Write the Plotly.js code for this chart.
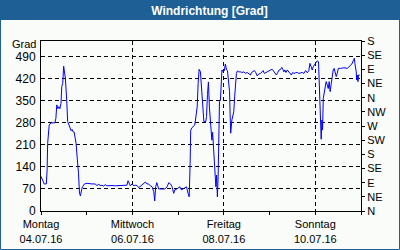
<!DOCTYPE html>
<html>
<head>
<meta charset="utf-8">
<script src="https://cdn.plot.ly/plotly-3.0.1.min.js"></script>
<style>
  html, body { margin: 0; padding: 0; background: #FAFCFA; }
  #chart { width: 400px; height: 250px; }
</style>
</head>
<body>
<div id="chart"></div>
<script>
// Hours since Montag 04.07.16 00:00
const hours = [
  0, 0.8, 1.7, 2.8, 3.2, 3.5, 3.8, 4.3, 5.2, 7.3,
  7.8, 8.3, 8.9, 9.4, 9.9, 10.5, 10.9, 11.4, 11.9, 12.2,
  12.4, 12.8, 13.5, 14, 14.7, 15.3, 15.8, 16.3, 16.9, 17.4,
  17.9, 18.4, 19.1, 19.7, 20.2, 20.7, 21.3, 21.8, 22.8, 24.1,
  26.7, 28.5, 29.4, 30.3, 31.1, 32, 32.9, 33.8, 34.6, 35.5,
  37.3, 39, 40.8, 42.5, 44.3, 45.1, 45.7, 46.4, 46.9, 47.8,
  48.7, 49.6, 50.4, 51.3, 52.2, 53, 53.9, 54.8, 55.6, 56.5,
  57.4, 58.3, 59.2, 59.7, 60.2, 60.8, 61.8, 63, 65, 66.2,
  67.1, 68, 68.8, 69.7, 70.2, 71.1, 72, 72.9, 73.7, 74.6,
  75.5, 76.4, 77.2, 77.8, 78.3, 78.6, 79.3, 80.2, 80.7, 81.1,
  82, 82.5, 83, 83.7, 84.1, 84.6, 85.1, 85.5, 86.5, 86.9,
  87.4, 87.9, 88.4, 88.9, 89.3, 89.7, 90.1, 90.5, 90.9, 91.4,
  91.8, 92.2, 92.6, 93, 93.3, 93.7, 94.2, 94.6, 95, 95.6,
  96.2, 96.8, 97.4, 97.9, 98.4, 99, 99.3, 99.6, 100.2, 100.7,
  101.2, 101.7, 102.1, 102.6, 103.1, 103.8, 104.7, 105.6, 106.5, 107.3,
  108.2, 109.1, 110, 110.5, 111.4, 112.1, 112.8, 113.5, 114.3, 115.2,
  116.1, 116.6, 117.3, 118, 118.7, 119.6, 120.5, 121.4, 122.2, 122.9,
  123.6, 124.3, 125, 125.8, 126.4, 127, 127.5, 128, 128.6, 129.3,
  130, 130.7, 131.4, 132.1, 132.8, 133.6, 134.5, 135.4, 136.3, 137.1,
  138, 138.9, 139.8, 140.6, 141.2, 141.9, 142.4, 142.9, 143.6, 144.3,
  145, 145.7, 146.1, 146.4, 146.8, 147.1, 147.5, 147.8, 148.2, 148.5,
  149, 149.4, 149.7, 150.3, 150.8, 151.3, 151.8, 152.4, 152.9, 153.4,
  153.9, 154.5, 155, 155.5, 156.1, 157.3, 159, 160.8, 161.6, 162.5,
  163.2, 163.9, 164.5, 164.8, 165.2, 165.5, 165.7, 166, 166.4, 166.7,
  167.3
];
// Wind direction in degrees (continuous scale 0..540)
const windDir = [
  110, 98, 86, 86, 130, 215, 257, 273, 280, 280,
  294, 337, 325, 331, 325, 342, 395, 405, 460, 442,
  450, 421, 352, 284, 273, 259, 255, 259, 251, 251,
  236, 215, 162, 120, 56, 48, 67, 77, 86, 88,
  86, 86, 80, 86, 80, 82, 79, 84, 80, 81,
  81, 80, 80, 81, 80, 82, 96, 86, 80, 86,
  80, 82, 81, 74, 79, 82, 88, 92, 86, 86,
  80, 77, 61, 32, 77, 90, 70, 70, 70, 77,
  90, 86, 77, 56, 67, 69, 73, 77, 67, 70,
  73, 77, 56, 45, 152, 257, 265, 270, 273, 289,
  331, 405, 450, 442, 411, 373, 331, 284, 284, 300,
  370, 410, 330, 290, 257, 225, 250, 204, 162, 120,
  77, 114, 45, 109, 225, 347, 352, 426, 448, 442,
  445, 467, 448, 446, 421, 379, 305, 247, 289, 305,
  315, 365, 421, 437, 445, 442, 442, 440, 442, 437,
  440, 437, 432, 440, 442, 446, 439, 429, 435, 437,
  442, 446, 437, 440, 442, 445, 448, 450, 442, 435,
  432, 440, 448, 450, 456, 450, 442, 448, 440, 448,
  442, 437, 432, 440, 437, 439, 440, 437, 440, 440,
  437, 446, 439, 446, 469, 453, 448, 458, 464, 471,
  477, 474, 416, 352, 289, 228, 289, 257, 358, 368,
  384, 405, 411, 400, 389, 411, 379, 405, 437, 448,
  453, 437, 427, 437, 453, 453, 455, 453, 458, 461,
  467, 477, 485, 469, 453, 442, 416, 432, 411, 432,
  432
];
const xTickHours = [0, 48, 96, 144];
const xTickLabels = ["Montag<br>04.07.16", "Mittwoch<br>06.07.16", "Freitag<br>08.07.16", "Sonntag<br>10.07.16"];
const yTickVals = [0, 70, 140, 210, 280, 350, 420, 490];
const compassVals = [0, 45, 90, 135, 180, 225, 270, 315, 360, 405, 450, 495, 540];
const compassLabels = ["N", "NE", "E", "SE", "S", "SW", "W", "NW", "N", "NE", "E", "SE", "S"];

const W = 400, H = 250;
const M = {l: 41, r: 39, t: 41, b: 39};
const pw = W - M.l - M.r, ph = H - M.t - M.b;
const px = v => (v - M.l) / pw;
const py = v => (H - M.b - v) / ph;

const blue = '#1E5F96';
const bg = '#FAFCFA';
const font = 'Liberation Sans, Arial, sans-serif';

const trace = {
  x: hours, y: windDir, type: 'scatter', mode: 'lines',
  line: {color: '#0000FF', width: 1}, hoverinfo: 'skip', showlegend: false
};
const dummy = {x: [0], y: [0], yaxis: 'y2', mode: 'none', showlegend: false, hoverinfo: 'skip'};

const layout = {
  width: W, height: H, autosize: false,
  margin: M,
  paper_bgcolor: bg, plot_bgcolor: bg,
  font: {family: font, size: 11, color: '#000'},
  title: {
    text: 'Windrichtung [Grad]',
    font: {family: font, size: 12, color: '#FFFFFF', weight: 'bold'},
    xref: 'container', x: 209.5 / W, xanchor: 'center',
    yref: 'container', y: 1 - 10.5 / H, yanchor: 'middle'
  },
  xaxis: {
    type: 'linear', range: [0, 168],
    tickmode: 'array', tickvals: xTickHours, ticktext: xTickLabels,
    ticks: 'outside', ticklen: 3, tickcolor: '#000',
    minor: {dtick: 24, tick0: 0, ticks: 'outside', ticklen: 3, tickcolor: '#000', showgrid: false},
    showline: true, linecolor: '#000', linewidth: 1, mirror: true,
    showgrid: true, gridcolor: '#000', griddash: '4px,3px', gridwidth: 1,
    zeroline: false, tickfont: {family: font, size: 11}
  },
  yaxis: {
    range: [0, 540], tickmode: 'array', tickvals: yTickVals,
    ticks: '', showline: true, linecolor: '#000', linewidth: 1, mirror: true,
    showgrid: true, gridcolor: '#000', griddash: '4px,3px', gridwidth: 1,
    zeroline: false, tickfont: {family: font, size: 12}, ticklabelstandoff: 2
  },
  yaxis2: {
    overlaying: 'y', side: 'right', range: [0, 540],
    tickmode: 'array', tickvals: compassVals, ticktext: compassLabels,
    ticks: 'outside', ticklen: 3, tickcolor: '#000',
    showline: true, linecolor: '#000', linewidth: 1,
    showgrid: false, zeroline: false, tickfont: {family: font, size: 11}
  },
  annotations: [{
    text: 'Grad', xref: 'paper', x: 0, xanchor: 'right', xshift: -3,
    yref: 'y', y: 540, yanchor: 'middle', yshift: -3, showarrow: false,
    font: {family: font, size: 11, color: '#000'}
  }],
  shapes: [
    {type: 'rect', xref: 'paper', yref: 'paper', layer: 'below',
     x0: px(0), x1: px(W), y0: py(20), y1: py(0),
     fillcolor: blue, line: {width: 0}},
    {type: 'rect', xref: 'paper', yref: 'paper', layer: 'above',
     x0: px(0.5), x1: px(W - 0.5), y0: py(H - 0.5), y1: py(0.5),
     fillcolor: 'rgba(0,0,0,0)', line: {color: blue, width: 1}}
  ]
};

Plotly.newPlot('chart', [trace, dummy], layout, {staticPlot: true, displayModeBar: false});
</script>
</body>
</html>
